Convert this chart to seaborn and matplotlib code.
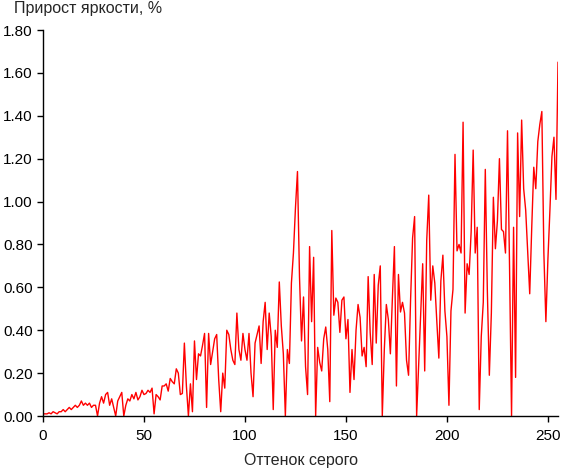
import numpy as np
import pandas as pd
import matplotlib
matplotlib.use('Agg')
import matplotlib.pyplot as plt
import seaborn as sns

# Gray level (0..255) and brightness gain, %
gray = list(range(256))
gain = [
    0.01, 0.01, 0.01, 0.015, 0.01, 0.02, 0.015, 0.01, 0.02, 0.02,
    0.03, 0.02, 0.03, 0.04, 0.03, 0.04, 0.05, 0.04, 0.05, 0.07,
    0.05, 0.06, 0.05, 0.06, 0.04, 0.05, 0.05, 0.0, 0.06, 0.09,
    0.06, 0.10, 0.11, 0.05, 0.08, 0.04, 0.0, 0.07, 0.09, 0.11,
    0.0, 0.05, 0.08, 0.07, 0.10, 0.08, 0.11, 0.075, 0.09, 0.12,
    0.10, 0.105, 0.12, 0.11, 0.13, 0.01, 0.10, 0.09, 0.075, 0.14,
    0.14, 0.15, 0.116, 0.175, 0.16, 0.15, 0.22, 0.20, 0.10, 0.105,
    0.34, 0.14, 0.0, 0.15, 0.02, 0.35, 0.17, 0.29, 0.28, 0.33,
    0.385, 0.04, 0.385, 0.24, 0.30, 0.36, 0.38, 0.17, 0.02, 0.20,
    0.13, 0.40, 0.38, 0.31, 0.26, 0.24, 0.48, 0.31, 0.26, 0.385,
    0.31, 0.26, 0.385, 0.20, 0.09, 0.34, 0.38, 0.42, 0.245, 0.44,
    0.53, 0.31, 0.48, 0.37, 0.03, 0.40, 0.32, 0.625, 0.42, 0.29,
    0.0, 0.31, 0.245, 0.62, 0.76, 0.97, 1.14, 0.65, 0.35, 0.555,
    0.23, 0.10, 0.79, 0.44, 0.74, 0.0, 0.32, 0.25, 0.21, 0.36,
    0.415, 0.31, 0.067, 0.865, 0.47, 0.55, 0.53, 0.39, 0.54, 0.555,
    0.36, 0.45, 0.11, 0.31, 0.17, 0.40, 0.52, 0.46, 0.28, 0.32,
    0.23, 0.65, 0.39, 0.24, 0.66, 0.34, 0.61, 0.70, 0.0, 0.31,
    0.52, 0.45, 0.29, 0.55, 0.79, 0.14, 0.66, 0.485, 0.53, 0.48,
    0.26, 0.19, 0.54, 0.83, 0.93, 0.0, 0.24, 0.48, 0.71, 0.21,
    0.82, 1.03, 0.54, 0.70, 0.62, 0.44, 0.27, 0.63, 0.75, 0.49,
    0.37, 0.05, 0.49, 0.59, 1.22, 0.77, 0.80, 0.76, 1.37, 0.48,
    0.71, 0.66, 0.86, 1.24, 0.76, 0.88, 0.03, 0.37, 0.53, 1.15,
    0.59, 0.19, 0.48, 1.02, 0.78, 0.91, 1.20, 0.87, 0.86, 0.76,
    1.33, 0.70, 0.0, 0.88, 0.18, 1.32, 0.93, 1.38, 1.06, 0.96,
    0.77, 0.57, 0.88, 1.16, 1.06, 1.28, 1.36, 1.42, 0.76, 0.44,
    0.73, 0.96, 1.21, 1.30, 1.01, 1.65,
]
x_ticks = [0, 50, 100, 150, 200, 250]
y_ticks = [0.0, 0.2, 0.4, 0.6, 0.8, 1.0, 1.2, 1.4, 1.6, 1.8]

df = pd.DataFrame({'gray': gray, 'gain': gain})

sns.set_style('ticks')
plt.rcParams['font.family'] = ['Liberation Sans', 'DejaVu Sans']
plt.rcParams['font.size'] = 11

fig = plt.figure(figsize=(5.61, 4.69), dpi=100)
ax = fig.add_axes([43 / 561, 53 / 469, 515 / 561, 386 / 469])

sns.lineplot(data=df, x='gray', y='gain', color='#ff0000', linewidth=1.0, ax=ax)

ax.set_xlim(0, 255)
ax.set_ylim(0, 1.8)
ax.set_xticks(x_ticks)
ax.set_yticks(y_ticks)
ax.set_yticklabels([f'{v:.2f}' for v in y_ticks])
ax.set_xlabel('')
ax.set_ylabel('')
ax.tick_params(axis='both', direction='out', length=4, width=1, colors='black',
               labelsize=11)
ax.tick_params(axis='x', pad=5)
ax.tick_params(axis='y', pad=3.5)
sns.despine(ax=ax)
for s in ['left', 'bottom']:
    ax.spines[s].set_color('black')
    ax.spines[s].set_linewidth(1)

fig.text(14 / 561, 1 - 13 / 469, 'Прирост яркости, %', fontsize=11.5, va='baseline', ha='left')
fig.text(300.5 / 561, 1 - 465 / 469, 'Оттенок серого', fontsize=11.5, va='baseline', ha='center')

fig.savefig('out.png', dpi=100)
